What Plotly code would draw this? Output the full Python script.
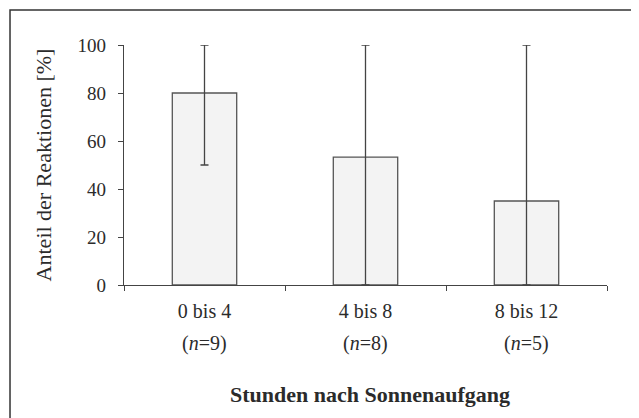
import plotly.graph_objects as go

# data
categories = ["0 bis 4", "4 bis 8", "8 bis 12"]
n_labels = ["(<i>n</i>=9)", "(<i>n</i>=8)", "(<i>n</i>=5)"]
anteil = [80, 53.3, 35]
err_high = [100, 100, 100]
err_low = [50, 0, 0]

font_serif = "Liberation Serif, Times New Roman, serif"
txt = "#2b2b2b"

plus = [h - v for h, v in zip(err_high, anteil)]
minus = [v - l for v, l in zip(anteil, err_low)]

fig = go.Figure()
fig.add_trace(go.Bar(
    x=categories, y=anteil, width=0.4,
    marker=dict(color="#f3f3f3", line=dict(color="#555555", width=1.3)),
    error_y=dict(type="data", symmetric=False, array=plus, arrayminus=minus,
                 color="#444444", thickness=1.3, width=4),
))

# n= labels below the category labels
for c, nl in zip(categories, n_labels):
    fig.add_annotation(x=c, y=-0.242, xref="x", yref="paper", text=nl,
                       showarrow=False, yanchor="middle",
                       font=dict(family=font_serif, size=20, color=txt))

fig.add_annotation(x=0.51, y=-0.458, xref="paper", yref="paper",
                   text="<b>Stunden nach Sonnenaufgang</b>", showarrow=False,
                   yanchor="middle",
                   font=dict(family=font_serif, size=22, color=txt))

# outer frame around the figure
fig.add_shape(type="rect", xref="paper", yref="paper",
              x0=-0.236, x1=1.054, y0=-0.6, y1=1.146,
              line=dict(color="#333333", width=1.5))

fig.update_layout(
    width=631, height=410,
    margin=dict(l=116, r=32, t=37, b=133),
    paper_bgcolor="white", plot_bgcolor="white",
    showlegend=False,
    font=dict(family=font_serif, size=19, color=txt),
    xaxis=dict(showline=True, linecolor="#444444", linewidth=1.3,
               ticks="outside", tickson="boundaries", ticklen=5,
               tickcolor="#444444", showgrid=False, ticklabelstandoff=8,
               tickfont=dict(family=font_serif, size=20, color=txt)),
    yaxis=dict(range=[0, 100], tickvals=[0, 20, 40, 60, 80, 100],
               showline=True, linecolor="#444444", linewidth=1.3,
               ticks="outside", ticklen=5, tickcolor="#444444",
               showgrid=False, zeroline=False, ticklabelstandoff=8,
               tickfont=dict(family=font_serif, size=19, color=txt),
               title=dict(text="Anteil der Reaktionen [%]", standoff=19,
                          font=dict(family=font_serif, size=22, color=txt))),
)

fig.write_html("out.html")
